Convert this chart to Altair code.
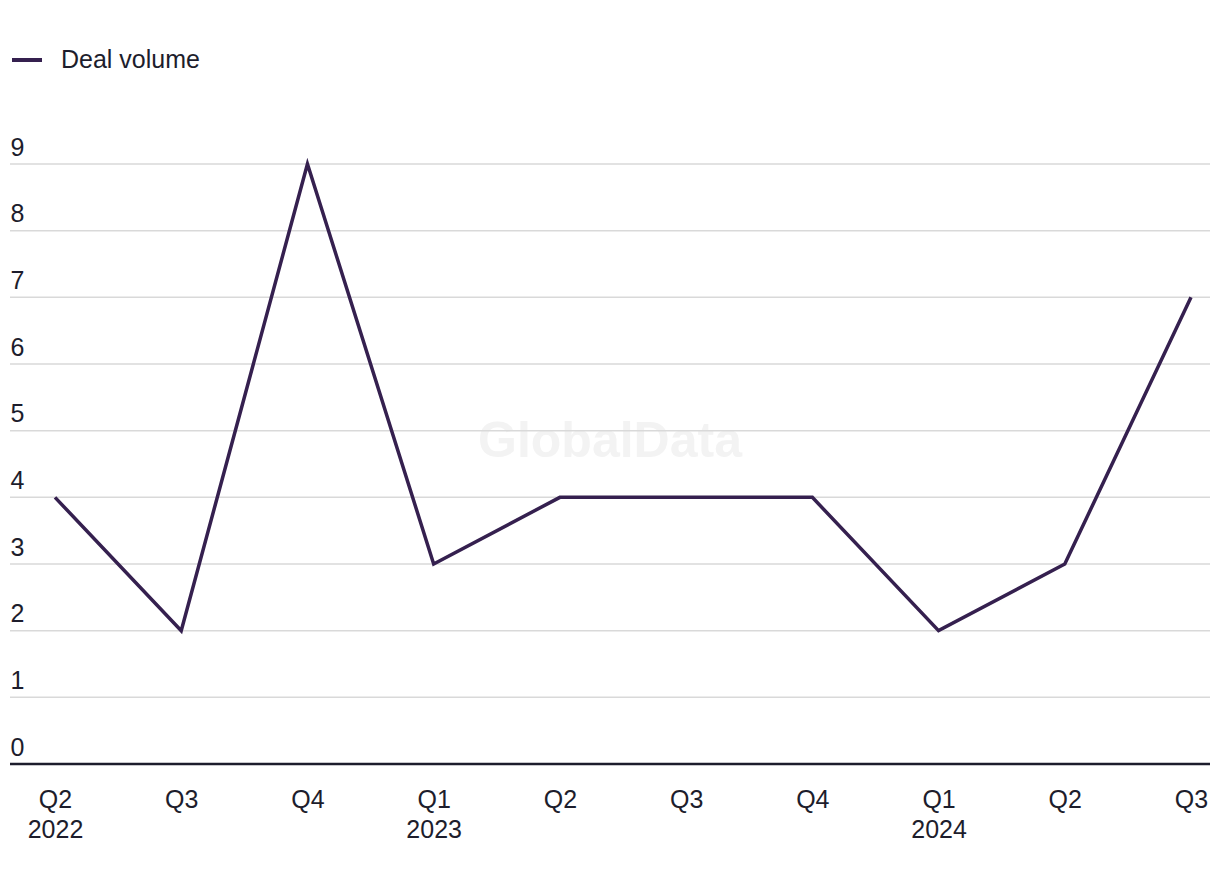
import altair as alt
import pandas as pd

quarters = ["Q2 2022", "Q3 2022", "Q4 2022", "Q1 2023", "Q2 2023",
            "Q3 2023", "Q4 2023", "Q1 2024", "Q2 2024", "Q3 2024"]
deal_volume = [4, 2, 9, 3, 4, 4, 4, 2, 3, 7]
y_ticks = [0, 1, 2, 3, 4, 5, 6, 7, 8, 9]
series_name = "Deal volume"
watermark = "GlobalData"

FONT = "Liberation Sans"
TEXT = "#1d1d2c"
LINE = "#35204f"
FS = 25

df = pd.DataFrame({"quarter": quarters, "volume": deal_volume, "series": series_name})
grid_df = pd.DataFrame({"tick": y_ticks})

label_expr = (
    "(indexof(datum.label, 'Q1') == 0 || datum.label == '" + quarters[0] + "')"
    " ? split(datum.label, ' ') : split(datum.label, ' ')[0]"
)

y_scale = alt.Scale(domain=[0, 9], nice=False)

x_enc = alt.X(
    "quarter:N",
    sort=quarters,
    scale=alt.Scale(type="point", padding=0, range=[45, alt.ExprRef("width - 19")]),
    axis=alt.Axis(
        title=None, labelAngle=0, domain=False, ticks=False, grid=False,
        labelPadding=23, labelFontSize=FS, labelColor=TEXT, labelFont=FONT,
        labelLineHeight=30, labelBaseline="top", labelOverlap=False,
        labelExpr=label_expr,
    ),
)
y_enc = alt.Y(
    "volume:Q",
    scale=y_scale,
    axis=alt.Axis(
        title=None, values=y_ticks, format="d", domain=False, ticks=False, tickSize=0,
        grid=False,
        labelAlign="left", labelPadding=0, labelBaseline="alphabetic",
        labelOffset=-9, labelFlush=False, labelOverlap=False,
        labelFontSize=FS, labelColor=TEXT, labelFont=FONT,
    ),
)

grid = alt.Chart(grid_df).mark_rule(color="#d9d9d9", strokeWidth=1.5).encode(
    y=alt.Y("tick:Q", scale=y_scale)
)

wm = alt.Chart(pd.DataFrame({"t": [watermark]})).mark_text(
    font=FONT, fontSize=50, fontWeight="bold", color="#f3f3f3",
    align="center", baseline="middle",
).encode(x=alt.value(600), y=alt.value(278), text="t:N")

line = alt.Chart(df).mark_line(strokeWidth=3.5).encode(
    x=x_enc,
    y=y_enc,
    color=alt.Color(
        "series:N",
        scale=alt.Scale(range=[LINE]),
        legend=alt.Legend(
            title=None, orient="none", legendX=0, legendY=-121,
            symbolType="stroke", symbolSize=900, symbolStrokeWidth=4,
            labelOffset=17, labelFontSize=FS, labelFont=FONT, labelColor=TEXT,
            padding=0,
        ),
    ),
)

base_rule = alt.Chart(pd.DataFrame({"z": [0]})).mark_rule(
    color=TEXT, strokeWidth=2.5
).encode(y=alt.Y("z:Q", scale=y_scale))

chart = alt.layer(wm, grid, line, base_rule).properties(
    width=1200, height=600,
    autosize=alt.AutoSizeParams(type="none"),
    padding={"left": 2, "top": 156, "right": 0, "bottom": 100},
).configure_view(stroke=None)

chart.save("out.html", embed_options={"renderer": "svg", "actions": False})
